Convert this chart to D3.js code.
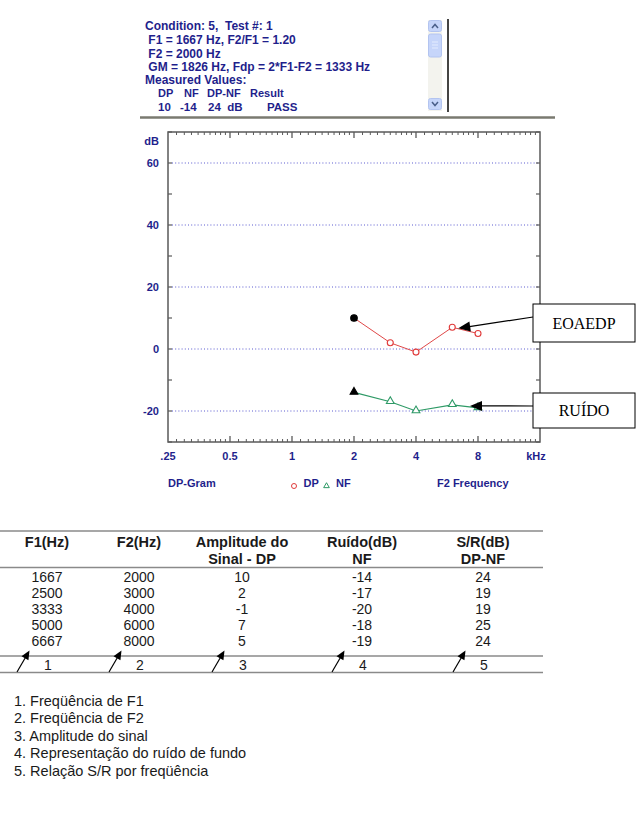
<!DOCTYPE html>
<html>
<head>
<meta charset="utf-8">
<script src="https://cdn.jsdelivr.net/npm/d3@7"></script>
<style>
body { margin: 0; background: #fff; }
svg { display: block; }
</style>
</head>
<body>
<svg width="636" height="813"></svg>
<script>
'use strict';

// values
var f1Hz = [1667, 2500, 3333, 5000, 6667];
var f2Hz = [2000, 3000, 4000, 6000, 8000];
var dpDb = [10, 2, -1, 7, 5];
var nfDb = [-14, -17, -20, -18, -19];
var snrDb = [24, 19, 19, 25, 24];

var xTicks = [0.25, 0.5, 1, 2, 4, 8];
var xTickLabels = ['.25', '0.5', '1', '2', '4', '8'];
var yTicks = [60, 40, 20, 0, -20];

var infoLines = [
	'Condition: 5,  Test #: 1',
	' F1 = 1667 Hz, F2/F1 = 1.20',
	' F2 = 2000 Hz',
	' GM = 1826 Hz, Fdp = 2*F1-F2 = 1333 Hz',
	'Measured Values:'
];
var measuredHead = ['DP', 'NF', 'DP-NF', 'Result'];
var measuredVals = ['10', '-14', '24  dB', 'PASS'];

var tableHead = [['F1(Hz)', ''], ['F2(Hz)', ''], ['Amplitude do', 'Sinal - DP'], ['Ruído(dB)', 'NF'], ['S/R(dB)', 'DP-NF']];
var tableIndex = ['1', '2', '3', '4', '5'];
var footnotes = [
	'1. Freqüência de F1',
	'2. Freqüência de F2',
	'3. Amplitude do sinal',
	'4. Representação do ruído de fundo',
	'5. Relação S/R por freqüência'
];

var navy = '#1f1f8c';
var svg = d3.select('svg');

// ---------- top info panel ----------
var info = svg.append('g')
	.style('font-family', '"Liberation Sans", Arial, sans-serif')
	.style('font-size', '12px')
	.style('font-weight', 'bold')
	.attr('fill', navy);

info.selectAll('text.line')
	.data(infoLines).enter()
	.append('text')
	.attr('class', 'line')
	.attr('xml:space', 'preserve')
	.attr('x', 145)
	.attr('y', function(d, i){ return i == 0 ? 29.8 : 44.3 + (i-1)*13.35; })
	.text(function(d){ return d; });

var mCols = [158, 184, 207, 250];
var vCols = [158, 180, 208, 267];
info.selectAll('text.mh')
	.data(measuredHead).enter()
	.append('text')
	.attr('class', 'mh')
	.attr('x', function(d, i){ return mCols[i]; })
	.attr('y', 97.4)
	.style('font-size', '11px')
	.text(function(d){ return d; });
info.selectAll('text.mv')
	.data(measuredVals).enter()
	.append('text')
	.attr('class', 'mv')
	.attr('xml:space', 'preserve')
	.attr('x', function(d, i){ return vCols[i]; })
	.attr('y', 110.8)
	.style('font-size', '11.5px')
	.text(function(d){ return d; });

// scroll bar
var sb = svg.append('g');
sb.append('rect').attr('x', 428).attr('y', 20).attr('width', 14).attr('height', 91).attr('fill', '#f3f3ee');
sb.append('rect').attr('x', 428.5).attr('y', 20.5).attr('width', 13).attr('height', 11).attr('rx', 2)
	.attr('fill', '#c6d5fa').attr('stroke', '#b3c4f0');
sb.append('rect').attr('x', 428.5).attr('y', 34).attr('width', 13).attr('height', 23).attr('rx', 2)
	.attr('fill', '#c6d5fa').attr('stroke', '#b3c4f0');
sb.append('rect').attr('x', 428.5).attr('y', 98.5).attr('width', 13).attr('height', 11).attr('rx', 2)
	.attr('fill', '#c6d5fa').attr('stroke', '#b3c4f0');
sb.append('path').attr('d', 'M432,28 L435,24.5 L438,28').attr('fill', 'none').attr('stroke', '#4a5f8a').attr('stroke-width', 1.5);
sb.append('path').attr('d', 'M432,102 L435,105.5 L438,102').attr('fill', 'none').attr('stroke', '#4a5f8a').attr('stroke-width', 1.5);
sb.append('path').attr('d', 'M432,42 H438 M432,45 H438 M432,48 H438').attr('stroke', '#e4ecff').attr('stroke-width', 1);
svg.append('line').attr('x1', 448).attr('x2', 448).attr('y1', 19).attr('y2', 112)
	.attr('stroke', '#444').attr('stroke-width', 2);
svg.append('line').attr('x1', 140).attr('x2', 555).attr('y1', 117.5).attr('y2', 117.5)
	.attr('stroke', '#7a7a70').attr('stroke-width', 2.5);

// ---------- DP-gram ----------
var x = d3.scaleLog().base(2).domain([0.25, 16]).range([168, 540]);
var y = d3.scaleLinear().domain([-20, 60]).range([411, 163]);
var plotTop = y(70), plotBottom = y(-30), plotLeft = x(0.25), plotRight = x(16);
var axisCol = '#5a5a5a';

var chart = svg.append('g');

// dotted grid
chart.selectAll('line.grid')
	.data(yTicks).enter()
	.append('line')
	.attr('class', 'grid')
	.attr('x1', plotLeft + 4).attr('x2', plotRight - 2)
	.attr('y1', function(d){ return y(d); })
	.attr('y2', function(d){ return y(d); })
	.attr('stroke', '#5a5ad0')
	.attr('stroke-width', 1)
	.attr('stroke-dasharray', '1,2.2');

// frame
chart.append('rect')
	.attr('x', plotLeft).attr('y', plotTop)
	.attr('width', plotRight - plotLeft).attr('height', plotBottom - plotTop)
	.attr('fill', 'none').attr('stroke', axisCol).attr('stroke-width', 1.5);

// y ticks, both sides
var yAll = d3.range(-30, 71, 10);
chart.selectAll('line.yl')
	.data(yAll).enter()
	.append('line')
	.attr('x1', plotLeft).attr('x2', plotLeft + 4)
	.attr('y1', function(d){ return y(d); })
	.attr('y2', function(d){ return y(d); })
	.attr('stroke', axisCol).attr('stroke-width', 1.2);
chart.selectAll('line.yr')
	.data(yAll).enter()
	.append('line')
	.attr('x1', plotRight - 4).attr('x2', plotRight)
	.attr('y1', function(d){ return y(d); })
	.attr('y2', function(d){ return y(d); })
	.attr('stroke', axisCol).attr('stroke-width', 1.2);

// x ticks (octaves major, tenths minor), top and bottom
var xMinor = [];
[0.25, 0.5, 1, 2, 4, 8].forEach(function(b){
	for (var k=1; k<10; k++) xMinor.push(b*(1 + k/10));
});
var xMajor = [0.5, 1, 2, 4, 8];
[[plotBottom, -1], [plotTop, 1]].forEach(function(s){
	chart.append('g').selectAll('line')
		.data(xMinor).enter()
		.append('line')
		.attr('x1', function(d){ return x(d); })
		.attr('x2', function(d){ return x(d); })
		.attr('y1', s[0]).attr('y2', s[0] + s[1]*3)
		.attr('stroke', axisCol).attr('stroke-width', 1);
	chart.append('g').selectAll('line')
		.data(xMajor).enter()
		.append('line')
		.attr('x1', function(d){ return x(d); })
		.attr('x2', function(d){ return x(d); })
		.attr('y1', s[0]).attr('y2', s[0] + s[1]*6)
		.attr('stroke', axisCol).attr('stroke-width', 1.3);
});

var lab = svg.append('g')
	.style('font-family', '"Liberation Sans", Arial, sans-serif')
	.style('font-size', '11px')
	.style('font-weight', 'bold')
	.attr('fill', navy);

lab.selectAll('text.yt')
	.data(yTicks).enter()
	.append('text')
	.attr('x', 159)
	.attr('y', function(d){ return y(d) + 4; })
	.attr('text-anchor', 'end')
	.text(function(d){ return d; });
lab.append('text').attr('x', 159).attr('y', 145).attr('text-anchor', 'end').text('dB');

lab.selectAll('text.xt')
	.data(xTicks).enter()
	.append('text')
	.attr('x', function(d){ return x(d); })
	.attr('y', 460)
	.attr('text-anchor', 'middle')
	.text(function(d, i){ return xTickLabels[i]; });
lab.append('text').attr('x', x(16) - 4).attr('y', 460).attr('text-anchor', 'middle').text('kHz');

lab.append('text').attr('x', 168).attr('y', 487).text('DP-Gram');
lab.append('text').attr('x', 303.5).attr('y', 487).text('DP');
lab.append('text').attr('x', 336).attr('y', 487).text('NF');
lab.append('text').attr('x', 437).attr('y', 487).text('F2 Frequency');
svg.append('circle').attr('cx', 294).attr('cy', 486).attr('r', 2.5)
	.attr('fill', 'none').attr('stroke', '#e03a3a').attr('stroke-width', 1);
svg.append('path').attr('d', d3.symbol(d3.symbolTriangle, 14)()).attr('transform', 'translate(326.5,486)')
	.attr('fill', 'none').attr('stroke', '#2e9a66').attr('stroke-width', 1);

// data
var khz = f2Hz.map(function(d){ return d/1000; });
var dpPts = khz.map(function(d, i){ return [d, dpDb[i]]; });
var nfPts = khz.map(function(d, i){ return [d, nfDb[i]]; });
var line = d3.line().x(function(d){ return x(d[0]); }).y(function(d){ return y(d[1]); });

chart.append('path').attr('d', line(dpPts)).attr('fill', 'none').attr('stroke', '#e04848').attr('stroke-width', 1);
chart.append('path').attr('d', line(nfPts)).attr('fill', 'none').attr('stroke', '#2e9a66').attr('stroke-width', 1.2);

chart.selectAll('circle.dp')
	.data(dpPts).enter()
	.append('circle')
	.attr('cx', function(d){ return x(d[0]); })
	.attr('cy', function(d){ return y(d[1]); })
	.attr('r', function(d, i){ return i == 0 ? 3.3 : 3; })
	.attr('fill', function(d, i){ return i == 0 ? '#000' : '#fff'; })
	.attr('stroke', function(d, i){ return i == 0 ? '#000' : '#e03a3a'; })
	.attr('stroke-width', 1.1);

var tri = d3.symbol(d3.symbolTriangle, 26);
chart.selectAll('path.nf')
	.data(nfPts).enter()
	.append('path')
	.attr('d', tri)
	.attr('transform', function(d){ return 'translate(' + x(d[0]) + ',' + (y(d[1]) - 0.5) + ')'; })
	.attr('fill', function(d, i){ return i == 0 ? '#000' : '#fff'; })
	.attr('stroke', function(d, i){ return i == 0 ? '#000' : '#2e9a66'; })
	.attr('stroke-width', 1.1);

// callouts
function arrow(g, x1, y1, x2, y2, len, wid){
	var a = Math.atan2(y2 - y1, x2 - x1);
	g.append('line').attr('x1', x1).attr('y1', y1)
		.attr('x2', x2 - Math.cos(a)*len*0.8).attr('y2', y2 - Math.sin(a)*len*0.8)
		.attr('stroke', '#000').attr('stroke-width', 1.2);
	var bx = x2 - Math.cos(a)*len, by = y2 - Math.sin(a)*len;
	var px = -Math.sin(a)*wid/2, py = Math.cos(a)*wid/2;
	g.append('path')
		.attr('d', 'M' + x2 + ',' + y2 + 'L' + (bx + px) + ',' + (by + py) + 'L' + (bx - px) + ',' + (by - py) + 'Z')
		.attr('fill', '#000');
}

var callouts = svg.append('g');
function box(label, bx, by, bw, bh){
	callouts.append('rect').attr('x', bx).attr('y', by).attr('width', bw).attr('height', bh)
		.attr('fill', '#fff').attr('stroke', '#000').attr('stroke-width', 1);
	callouts.append('text').attr('x', bx + bw/2).attr('y', by + bh/2 + 5.5)
		.attr('text-anchor', 'middle')
		.attr('fill', '#000')
		.style('font-family', '"Liberation Serif", "Times New Roman", serif')
		.style('font-size', '16px')
		.text(label);
}
arrow(callouts, 533, 317, x(6) + 6, y(7) + 1, 12, 10);
arrow(callouts, 533, 406, x(8) - 8, y(-19) - 2, 12, 10);
box('EOAEDP', 533, 304, 102, 38);
box('RUÍDO', 533, 393, 102, 35);

// ---------- table ----------
var colX = [47, 139, 242, 362, 483];
var tbl = svg.append('g')
	.style('font-family', '"Liberation Sans", Arial, sans-serif')
	.attr('fill', '#1a1a1a');

[531, 567.5, 656, 672.5].forEach(function(ly){
	tbl.append('line').attr('x1', 0).attr('x2', 543).attr('y1', ly).attr('y2', ly)
		.attr('stroke', '#8a8a8a').attr('stroke-width', 1.6);
});

tableHead.forEach(function(h, i){
	h.forEach(function(t, j){
		tbl.append('text')
			.attr('x', colX[i]).attr('y', 547 + j*16.6)
			.attr('text-anchor', 'middle')
			.style('font-size', '14.5px').style('font-weight', 'bold')
			.text(t);
	});
});

var rows = f1Hz.map(function(d, i){ return [d, f2Hz[i], dpDb[i], nfDb[i], snrDb[i]]; });
rows.forEach(function(r, i){
	tbl.selectAll(null)
		.data(r).enter()
		.append('text')
		.attr('x', function(d, j){ return colX[j]; })
		.attr('y', 582.3 + i*15.9)
		.attr('text-anchor', 'middle')
		.style('font-size', '14px')
		.text(function(d){ return d; });
});

tbl.selectAll('text.idx')
	.data(tableIndex).enter()
	.append('text')
	.attr('x', function(d, i){ return colX[i] + 1; })
	.attr('y', 669.5)
	.attr('text-anchor', 'middle')
	.style('font-size', '14px')
	.text(function(d){ return d; });

colX.forEach(function(cx){
	arrow(tbl, cx - 30, 672, cx - 17.5, 650.5, 9, 8);
});

// ---------- footnotes ----------
svg.append('g')
	.style('font-family', '"Liberation Sans", Arial, sans-serif')
	.style('font-size', '14.5px')
	.attr('fill', '#1a1a1a')
	.selectAll('text')
	.data(footnotes).enter()
	.append('text')
	.attr('x', 14)
	.attr('y', function(d, i){ return 705.8 + i*17.5; })
	.text(function(d){ return d; });
</script>
</body>
</html>
